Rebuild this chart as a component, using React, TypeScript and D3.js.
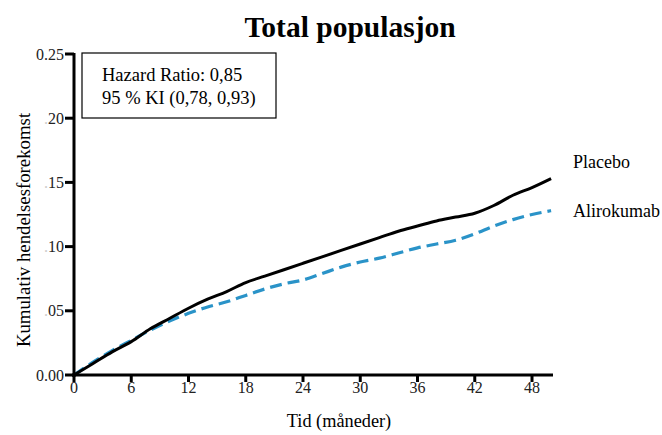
import React, { useEffect, useRef } from "react";
import * as d3 from "d3";

// Kumulativ hendelsesforekomst, lest av figuren
const months = [0, 2, 4, 6, 8, 10, 12, 14, 16, 18, 20, 22, 24, 26, 28, 30, 32, 34, 36, 38, 40, 42, 44, 46, 48, 50];
const placebo = [0, 0.009, 0.018, 0.026, 0.036, 0.044, 0.052, 0.059, 0.065, 0.072, 0.077, 0.082, 0.087, 0.092, 0.097, 0.102, 0.107, 0.112, 0.116, 0.12, 0.123, 0.126, 0.132, 0.14, 0.146, 0.153];
const alirokumab = [0, 0.01, 0.019, 0.027, 0.035, 0.042, 0.048, 0.053, 0.057, 0.062, 0.067, 0.071, 0.074, 0.079, 0.084, 0.088, 0.091, 0.095, 0.099, 0.102, 0.105, 0.11, 0.116, 0.121, 0.125, 0.128];
const xTicks = [0, 6, 12, 18, 24, 30, 36, 42, 48];
const yTicks = [0, 0.05, 0.1, 0.15, 0.2, 0.25];
const yTickLabels = ["0.00", ".05", ".10", ".15", ".20", "0.25"];

const W = 662;
const H = 435;

const App = () => {
  const svgRef = useRef(null);

  useEffect(() => {
    const svg = d3.select(svgRef.current);
    svg.selectAll("*").remove();

    const x = d3.scaleLinear().domain([0, 50.2]).range([74, 553]);
    const y = d3.scaleLinear().domain([0, 0.25]).range([375, 54]);
    const font = "'Liberation Serif', 'Times New Roman', serif";

    // Tittel
    svg
      .append("text")
      .attr("x", 350)
      .attr("y", 37)
      .attr("text-anchor", "middle")
      .attr("font-family", font)
      .attr("font-weight", "bold")
      .attr("font-size", 29.5)
      .text("Total populasjon");

    // Kurver
    const line = d3
      .line()
      .x((d) => x(d[0]))
      .y((d) => y(d[1]))
      .curve(d3.curveMonotoneX);

    svg
      .append("path")
      .datum(months.map((m, i) => [m, alirokumab[i]]))
      .attr("fill", "none")
      .attr("stroke", "#2a93c8")
      .attr("stroke-width", 3.2)
      .attr("stroke-dasharray", "12,6")
      .attr("d", line);

    svg
      .append("path")
      .datum(months.map((m, i) => [m, placebo[i]]))
      .attr("fill", "none")
      .attr("stroke", "#000")
      .attr("stroke-width", 3)
      .attr("d", line);

    // X-akse
    const xAxis = svg.append("g");
    xAxis
      .append("line")
      .attr("x1", 72)
      .attr("x2", 553)
      .attr("y1", 375)
      .attr("y2", 375)
      .attr("stroke", "#000")
      .attr("stroke-width", 3);
    xTicks.forEach((t) => {
      xAxis
        .append("line")
        .attr("x1", x(t))
        .attr("x2", x(t))
        .attr("y1", 375)
        .attr("y2", 382)
        .attr("stroke", "#000")
        .attr("stroke-width", 3);
      xAxis
        .append("text")
        .attr("x", x(t))
        .attr("y", 393)
        .attr("text-anchor", "middle")
        .attr("font-family", font)
        .attr("font-size", 16)
        .attr("fill", "#222")
        .text(t);
    });

    // Y-akse
    const yAxis = svg.append("g");
    yAxis
      .append("line")
      .attr("x1", 74)
      .attr("x2", 74)
      .attr("y1", 53)
      .attr("y2", 377)
      .attr("stroke", "#000")
      .attr("stroke-width", 3);
    yTicks.forEach((t, i) => {
      yAxis
        .append("line")
        .attr("x1", 65)
        .attr("x2", 74)
        .attr("y1", y(t))
        .attr("y2", y(t))
        .attr("stroke", "#000")
        .attr("stroke-width", 3);
      const label = yTickLabels[i];
      const txt = yAxis
        .append("text")
        .attr("x", 64)
        .attr("y", y(t) + 5.5)
        .attr("text-anchor", "end")
        .attr("font-family", font)
        .attr("font-size", 16)
        .attr("fill", "#222");
      if (label.startsWith(".")) {
        txt.append("tspan").attr("fill", "#ccc").text(".");
        txt.append("tspan").text(label.slice(1));
      } else {
        txt.text(label);
      }
    });

    // Aksetitler
    svg
      .append("text")
      .attr("transform", "translate(30,230) rotate(-90)")
      .attr("text-anchor", "middle")
      .attr("font-family", font)
      .attr("font-size", 18.8)
      .text("Kumulativ hendelsesforekomst");

    svg
      .append("text")
      .attr("x", 339)
      .attr("y", 427)
      .attr("text-anchor", "middle")
      .attr("font-family", font)
      .attr("font-size", 18.3)
      .text("Tid (måneder)");

    // Hazard ratio-boks
    svg
      .append("rect")
      .attr("x", 82)
      .attr("y", 53)
      .attr("width", 194)
      .attr("height", 65)
      .attr("fill", "#fff")
      .attr("stroke", "#000")
      .attr("stroke-width", 1.2);
    svg
      .append("text")
      .attr("x", 102)
      .attr("y", 81)
      .attr("font-family", font)
      .attr("font-size", 18.5)
      .text("Hazard Ratio: 0,85");
    svg
      .append("text")
      .attr("x", 102)
      .attr("y", 104)
      .attr("font-family", font)
      .attr("font-size", 18.5)
      .text("95 % KI (0,78, 0,93)");

    // Seriemerker
    svg
      .append("text")
      .attr("x", 573)
      .attr("y", 168)
      .attr("font-family", font)
      .attr("font-size", 18)
      .text("Placebo");
    svg
      .append("text")
      .attr("x", 573)
      .attr("y", 217)
      .attr("font-family", font)
      .attr("font-size", 18)
      .text("Alirokumab");
  }, []);

  return (
    <div style={{ position: "absolute", left: 0, top: 0 }}>
      <svg ref={svgRef} width={W} height={H} style={{ display: "block", background: "#fff" }}></svg>
    </div>
  );
};

export default App;
